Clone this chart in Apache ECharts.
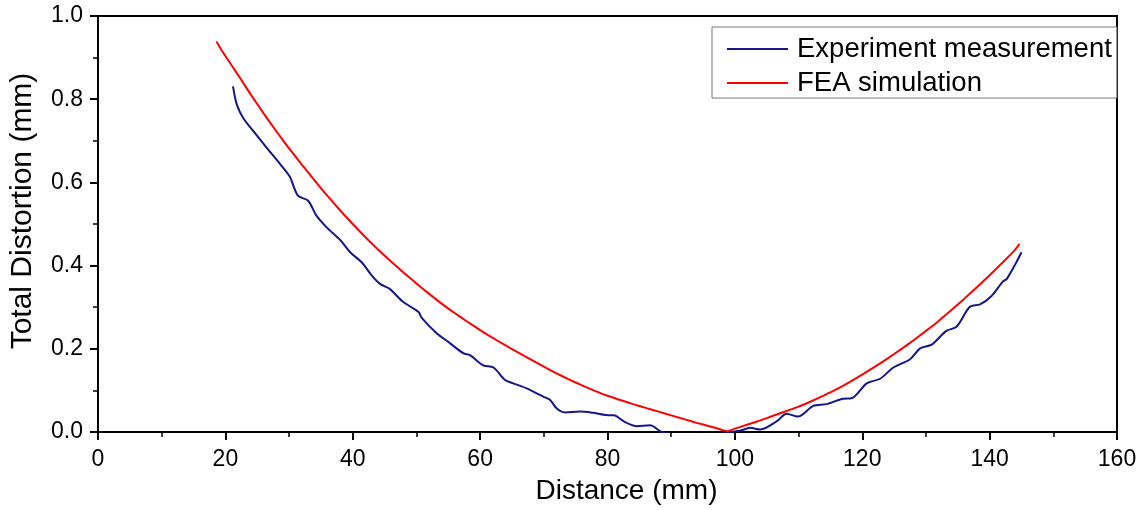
<!DOCTYPE html>
<html>
<head>
<meta charset="utf-8">
<script src="https://cdn.jsdelivr.net/npm/echarts@6/dist/echarts.min.js"></script>
<style>
html,body{margin:0;padding:0;background:#fff;}
#chart{width:1142px;height:510px;}
</style>
</head>
<body>
<div id="chart"></div>
<script>
// Experiment measurement
const expX = [21.2,21.8,22.8,24.4,26.5,28.6,30.1,31.4,33.0,34.3,35.9,38.0,39.6,41.4,43.0,44.3,45.8,47.9,50.3,50.8,53.0,55.3,57.4,58.4,60.5,62.1,63.9,65.2,67.3,69.9,71.0,72.0,73.3,75.7,77.8,80.4,81.0,82.5,84.6,86.7,88.5,92.0,96.0,99.2,100.8,102.4,104.0,106.6,108.1,109.9,112.3,114.4,117.0,118.3,120.7,122.8,124.9,127.5,129.1,130.9,133.2,134.8,136.9,138.5,140.3,142.1,142.7,144.2,145.0];
const expY = [0.831,0.787,0.755,0.723,0.683,0.644,0.614,0.568,0.556,0.520,0.492,0.462,0.432,0.408,0.376,0.356,0.344,0.313,0.289,0.275,0.240,0.213,0.189,0.185,0.160,0.155,0.125,0.117,0.105,0.085,0.077,0.057,0.047,0.049,0.046,0.040,0.040,0.026,0.014,0.016,0.000,-0.010,-0.010,0.000,0.003,0.010,0.006,0.026,0.044,0.037,0.063,0.067,0.080,0.081,0.117,0.128,0.155,0.175,0.201,0.210,0.243,0.253,0.301,0.307,0.327,0.362,0.368,0.408,0.432];
// FEA simulation
const feaX = [18.6,19.3,20,22,24,26,28,30,32,34,36,38,40,42,44,46,48,50,52,54,56,58,60,62,64,66,68,70,72,74,76,78,80,82,84,86,88,90,92,94,96,98,98.8,100,102,104,106,108,110,112,114,116,118,120,122,124,126,128,130,132,134,136,138,140,142,143.7,144.2,144.7];
const feaY = [0.939,0.920,0.904,0.858,0.811,0.766,0.723,0.682,0.643,0.605,0.568,0.533,0.500,0.468,0.438,0.410,0.383,0.357,0.332,0.308,0.286,0.265,0.245,0.226,0.208,0.191,0.174,0.157,0.141,0.126,0.112,0.099,0.087,0.077,0.067,0.058,0.049,0.040,0.031,0.022,0.014,0.005,0.002,0.008,0.018,0.028,0.039,0.050,0.061,0.074,0.088,0.103,0.120,0.138,0.157,0.177,0.198,0.220,0.243,0.267,0.293,0.320,0.348,0.377,0.407,0.433,0.442,0.452];

const seriesNames = ['Experiment measurement','FEA simulation'];
const xTicks = {min:0, max:160, interval:20};
const yTicks = {min:0, max:1.0, interval:0.2};

const zip = (xs, ys) => xs.map((x,i)=>[x, ys[i]]);
const FONT = '"Liberation Sans", Arial, sans-serif';

const chart = echarts.init(document.getElementById('chart'), null, {renderer:'canvas'});
chart.setOption({
  animation:false,
  backgroundColor:'#fff',
  grid:{left:98, right:25, top:16, bottom:76, show:true, borderColor:'#000', borderWidth:2, backgroundColor:'transparent'},
  legend:{
    orient:'vertical', left:712, top:27,
    padding:[8,5,1,15],
    icon:'rect',
    itemWidth:61, itemHeight:2, itemGap:6,
    borderColor:'#777', borderWidth:1, backgroundColor:'#fff',
    textStyle:{fontFamily:FONT, fontSize:27.5, color:'#000', lineHeight:26, padding:[0,0,0,4]},
    data: seriesNames
  },
  xAxis:{
    type:'value', min:xTicks.min, max:xTicks.max, interval:xTicks.interval,
    name:'Distance (mm)', nameLocation:'middle', nameGap:45,
    nameTextStyle:{fontFamily:FONT, fontSize:28, color:'#000', padding:[0,0,0,38]},
    axisLine:{show:true, lineStyle:{color:'#000', width:2}},
    axisTick:{show:true, inside:false, length:8, lineStyle:{color:'#000', width:2}},
    minorTick:{show:true, splitNumber:2, length:5, lineStyle:{color:'#000', width:1.5}},
    axisLabel:{fontFamily:FONT, fontSize:23, color:'#000', margin:16},
    splitLine:{show:false}
  },
  yAxis:{
    type:'value', min:yTicks.min, max:yTicks.max, interval:yTicks.interval,
    name:'Total Distortion (mm)', nameLocation:'middle', nameGap:60,
    nameTextStyle:{fontFamily:FONT, fontSize:30, color:'#000', padding:[0,0,0,26]},
    axisLine:{show:true, lineStyle:{color:'#000', width:2}},
    axisTick:{show:true, inside:false, length:8, lineStyle:{color:'#000', width:2}},
    minorTick:{show:true, splitNumber:2, length:5, lineStyle:{color:'#000', width:1.5}},
    axisLabel:{fontFamily:FONT, fontSize:23, color:'#000', margin:15, formatter:v=>v.toFixed(1)},
    splitLine:{show:false}
  },
  series:[
    {name:seriesNames[0], type:'line', data:zip(expX, expY), symbol:'none', smooth:0.3, clip:true,
     lineStyle:{color:'#16168c', width:2}, itemStyle:{color:'#16168c'}},
    {name:seriesNames[1], type:'line', data:zip(feaX, feaY), symbol:'none', smooth:0.2, clip:true,
     lineStyle:{color:'#ff0000', width:2}, itemStyle:{color:'#ff0000'}}
  ]
});
</script>
</body>
</html>
